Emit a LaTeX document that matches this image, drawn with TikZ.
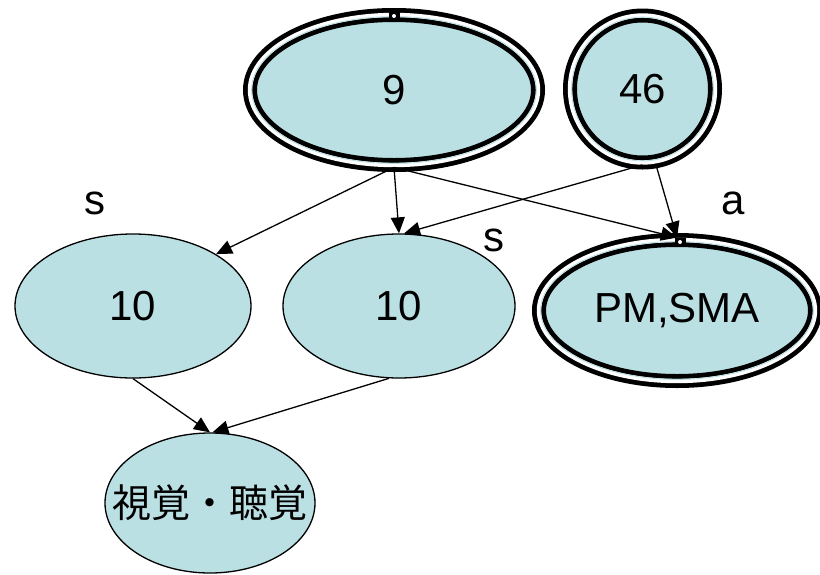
\documentclass[tikz,border=0pt]{standalone}
\usepackage{fontspec}
\setmainfont{Liberation Sans}
\newfontfamily\cjk{Noto Sans CJK JP}
\usetikzlibrary{shapes.geometric,arrows.meta}
\definecolor{nodefill}{RGB}{187,224,228}
\tikzset{
  x=1pt, y=-1pt,
  state/.style={ellipse, draw=black, line width=1.3pt, fill=nodefill, inner sep=0pt,
    font=\fontsize{42}{42}\selectfont},
  goalstate/.style={state, line width=4.8pt, double=white, double distance=4.4pt},
  gapring/.style={draw=nodefill, line width=0.9pt},
  edge/.style={line width=1.3pt, -{Triangle[length=16pt,width=14pt]}},
  lbl/.style={font=\fontsize{42}{42}\selectfont, inner sep=0pt},
  marker/.style={fill=black, minimum width=11pt, minimum height=8pt, inner sep=0pt},
}
\begin{document}
\begin{tikzpicture}
\useasboundingbox (0,0) rectangle (820,574);

% goal states (double border)
\node[goalstate, minimum width=288pt, minimum height=150pt] (n9) at (394,90) {9};
\node[goalstate, minimum width=145pt, minimum height=147pt] (n46) at (642.5,89) {46};
\node[goalstate, minimum width=276pt, minimum height=141pt] (pm) at (677,310.5) {PM,SMA};

% thin tinted rings along the inner edge of the white gap
\draw[gapring] (n9.center) ellipse (142.4pt and 73.4pt);
\draw[gapring] (n46.center) ellipse (70.9pt and 71.9pt);
\draw[gapring] (pm.center) ellipse (136.4pt and 68.9pt);

% ordinary states
\node[state, minimum width=236pt, minimum height=144pt] (l10) at (133,306) {10};
\node[state, minimum width=232pt, minimum height=144pt] (m10) at (399,306) {10};
\node[state, minimum width=210pt, minimum height=140pt, inner sep=-28pt] (vis) at (210,503)
  {\cjk\fontsize{39}{39}\selectfont 視覚・聴覚};

% small marks on the double borders
\node[marker] (mk9) at (394,16) {};
\fill[white] (mk9.center) circle (2pt);
\node[marker] (mkpm) at (680,242) {};
\fill[white] (mkpm.center) circle (2pt);

% connectors
\draw[edge] (n9.south) -- (l10.32);
\draw[edge] (n9.south) -- (m10.north);
\draw[edge] (n9.south) -- (pm.north);
\draw[edge] (n46.south) -- (m10.86);
\draw[edge] (n46.280) -- (pm.north);
\draw[edge] (l10.south) -- (vis.north);
\draw[edge] (m10.262) -- (vis.88);

% labels
\node[lbl] (s1) at (95,203) {s};
\node[lbl] (s2) at (494,240) {s};
\node[lbl] (a1) at (733,203) {a};
\end{tikzpicture}
\end{document}
